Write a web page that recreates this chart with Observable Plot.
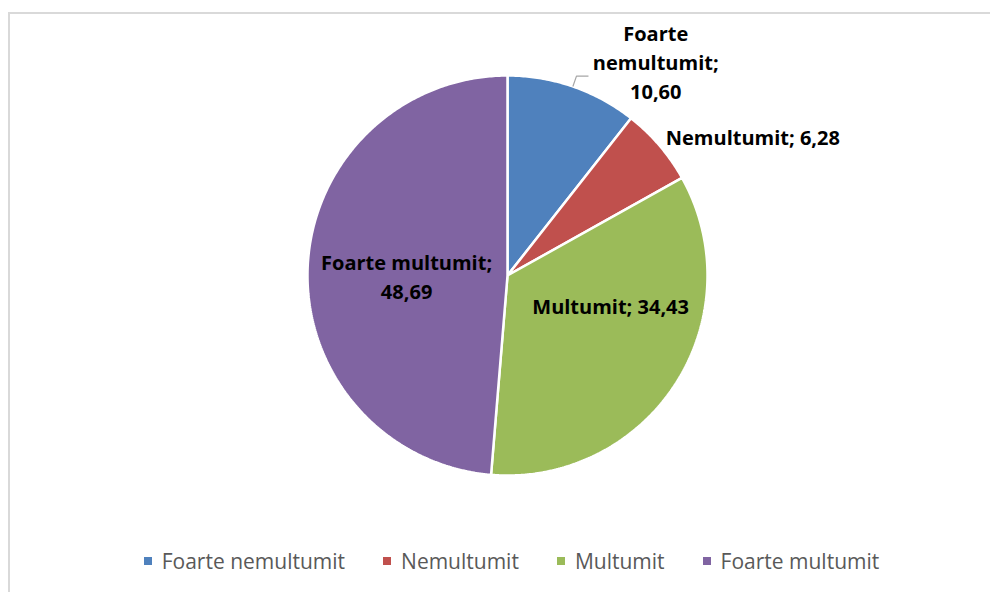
<!DOCTYPE html>
<html><head><meta charset="utf-8">
<script src="https://cdn.jsdelivr.net/npm/d3@7"></script>
<script src="https://cdn.jsdelivr.net/npm/@observablehq/plot@0.6"></script>
<style>
html,body{margin:0;padding:0;background:#fff;width:990px;height:592px;overflow:hidden;position:relative}
#frame{position:absolute;left:8px;top:12px;width:1020px;height:620px;border:2px solid #d9d9d9;box-sizing:border-box}
#chart{position:absolute;left:0;top:0}
#legend{position:absolute;left:9px;width:1005px;top:549px;height:24px;display:flex;justify-content:center;align-items:center;gap:38px;font-family:"Open Sans";font-size:21px;line-height:24px;color:#595959}
#legend .item{display:flex;align-items:center;white-space:nowrap}
#legend .sw{width:8px;height:8px;margin-right:10px;display:inline-block}
</style></head>
<body>
<div id="frame"></div>
<div id="chart"></div>
<div id="legend"></div>
<script>
const categories = ["Foarte nemultumit", "Nemultumit", "Multumit", "Foarte multumit"];
const values = [10.60, 6.28, 34.43, 48.69];
const colors = ["#4F81BD", "#C0504D", "#9BBB59", "#8064A2"];
// label line breaks (layout)
const labelBreaks = ["\n", " ", " ", "\n"];

// ---- layout ----
const W = 990, H = 592, CX = 507, CY = 275, R = 200;
const labelLayout = [
  {r: 224, dx: 75, dy: 3, leader: true},
  {r: 211, dx: 85, dy: 3},
  {r: 100, dx: 19, dy: 25},
  {r: 101, dx: 0, dy: -4}
];

const fmt = v => v.toFixed(2).replace(".", ",");
const arcs = d3.pie().sort(null).value(d => d)(values);

const slicePts = [];
arcs.forEach((a, i) => {
  slicePts.push({cat: categories[i], x: 0, y: 0});
  const n = Math.max(2, Math.ceil((a.endAngle - a.startAngle) / 0.01));
  for (let k = 0; k <= n; k++) {
    const t = a.startAngle + (a.endAngle - a.startAngle) * k / n;
    slicePts.push({cat: categories[i], x: R * Math.sin(t), y: R * Math.cos(t)});
  }
});

const labels = arcs.map((a, i) => {
  const mid = (a.startAngle + a.endAngle) / 2;
  const L = labelLayout[i];
  const name = categories[i] === "Foarte nemultumit" ? "Foarte\nnemultumit" : categories[i];
  return {
    text: name + ";" + labelBreaks[i] + fmt(values[i]),
    x: L.r * Math.sin(mid) + L.dx,
    y: L.r * Math.cos(mid) + L.dy,
    mid, leader: L.leader
  };
});

const leaders = [];
labels.forEach((l, i) => {
  if (!l.leader) return;
  const m = l.mid;
  leaders.push({id: i, x: R * Math.sin(m), y: R * Math.cos(m)});
  leaders.push({id: i, x: (R + 11) * Math.sin(m), y: (R + 11) * Math.cos(m)});
  leaders.push({id: i, x: (R + 11) * Math.sin(m) + 12, y: (R + 11) * Math.cos(m)});
});

const plot = Plot.plot({
  width: W, height: H,
  margin: 0,
  x: {domain: [-CX, W - CX], axis: null},
  y: {domain: [-(H - CY), CY], axis: null},
  color: {domain: categories, range: colors},
  style: {background: "transparent", overflow: "visible"},
  marks: [
    Plot.line(slicePts, {x: "x", y: "y", z: "cat", fill: "cat", stroke: "white", strokeWidth: 2.5, curve: "linear-closed", strokeLinejoin: "miter"}),
    Plot.line(leaders, {x: "x", y: "y", z: "id", stroke: "#a6a6a6", strokeWidth: 1.2, strokeLinecap: "butt"}),
    Plot.text(labels, {x: "x", y: "y", text: "text", fontFamily: "Open Sans", fontWeight: "bold", fontSize: 20, lineHeight: 1.45, fill: "#000", textAnchor: "middle", lineAnchor: "middle"})
  ]
});
document.getElementById("chart").appendChild(plot);

const legend = document.getElementById("legend");
categories.forEach((c, i) => {
  const it = document.createElement("div");
  it.className = "item";
  const sw = document.createElement("span");
  sw.className = "sw";
  sw.style.background = colors[i];
  it.appendChild(sw);
  it.appendChild(document.createTextNode(c));
  legend.appendChild(it);
});
</script>
</body></html>
